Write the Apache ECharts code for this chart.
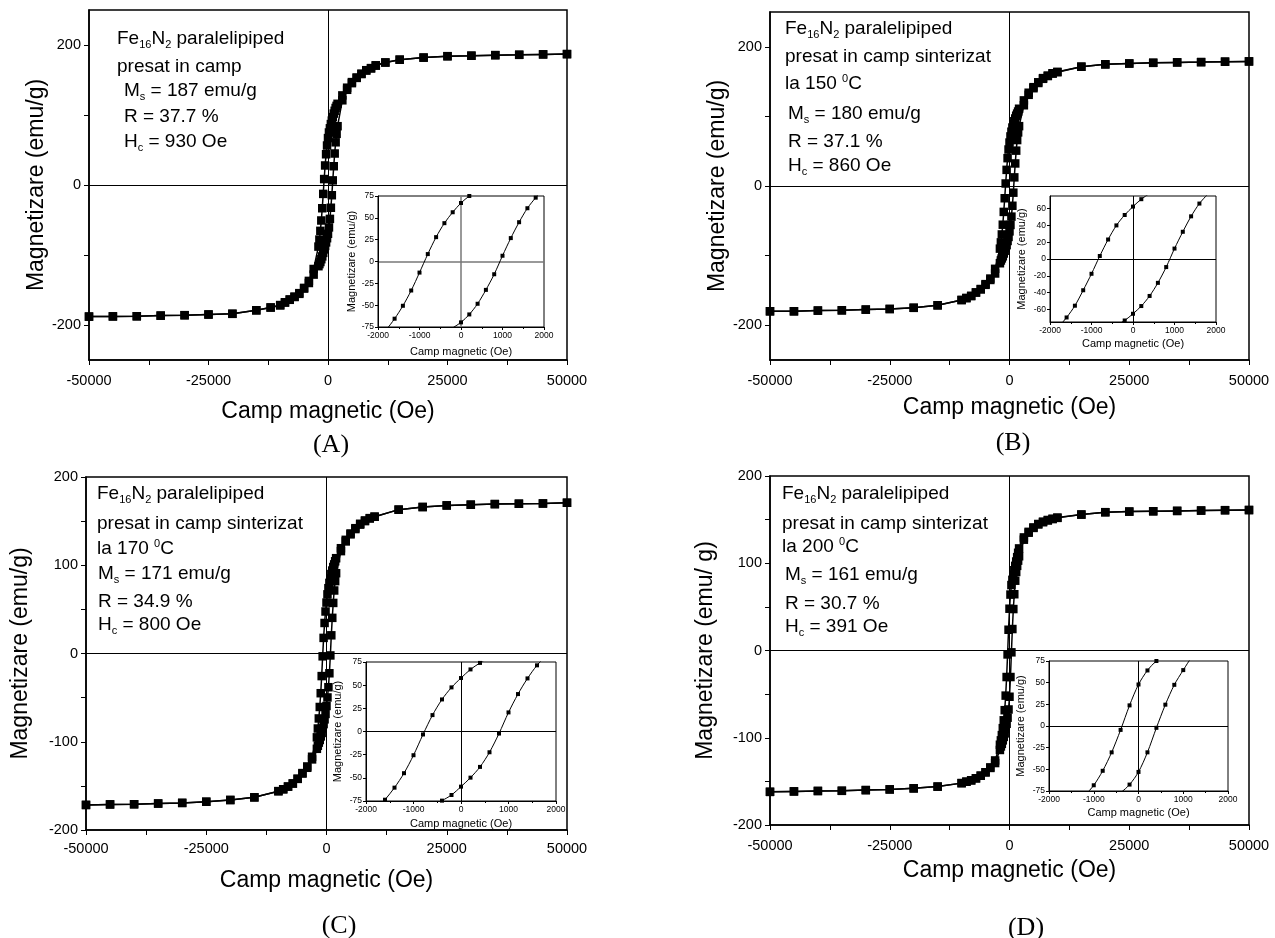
<!DOCTYPE html>
<html><head><meta charset="utf-8">
<script src="https://cdn.jsdelivr.net/npm/echarts@6/dist/echarts.min.js"></script>
<style>html,body{margin:0;padding:0;background:#fff}#c{width:1275px;height:938px}</style>
</head><body><div id="c"></div>
<script>
// ---------------- DATA ----------------
// Field grid (Oe), descending order; both loop branches are given on this grid
const hA = [50000,45000,40000,35000,30000,25000,20000,15000,12000,10000,9000,8000,7000,6000,5000,4000,3000,
  2000,1800,1600,1400,1200,1000,800,600,400,200,0,-200,-400,-600,-800,-1000,-1200,-1400,-1600,-1800,-2000,
  -3000,-4000,-5000,-6000,-7000,-8000,-9000,-10000,-12000,-15000,-20000,-25000,-30000,-35000,-40000,-45000,-50000];
const hBCD = [50000,45000,40000,35000,30000,25000,20000,15000,10000,9000,8000,7000,6000,5000,4000,3000,
  2000,1800,1600,1400,1200,1000,800,600,400,200,0,-200,-400,-600,-800,-1000,-1200,-1400,-1600,-1800,-2000,
  -3000,-4000,-5000,-6000,-7000,-8000,-9000,-10000,-15000,-20000,-25000,-30000,-35000,-40000,-45000,-50000];

// (A) descending (upper) and ascending (lower) branches, emu/g
const upA = [187,186.6,186,185.5,184.7,184,182,179,175,171,167,164,159,153.5,147,139,128,
  116,113,110,106,102,97,92,87,81,75,67,56.4,43.9,27.9,8.5,-12.7,-33.2,-50.7,-65.5,-78,-88,
  -120,-137,-147,-154.5,-159.5,-163.5,-167.5,-171.5,-175,-179,-184,-185,-186,-186.6,-187.5,-187.7,-188];
const lowA = [187,186.6,186,185.5,184.7,184,182,179,175,170.5,166.5,163.5,158.5,153,145.5,136,121,
  84,73.1,61,45,26.8,6.6,-14.6,-32.5,-48.4,-60.6,-69.7,-76,-82,-87,-92,-97,-102,-106,-110,-113,-116,
  -128,-140,-148,-155.5,-160,-164,-168,-172,-175,-179,-184,-185,-186,-186.6,-187.5,-187.7,-188];

// (B)
const upB = [179,178.6,178,177.6,177,176,174.8,171.4,164,162,158.6,155,149,142,134,123,
  111,107,104,101,97,93,89,84,78,71.2,62.4,52.4,40,23.2,3.6,-17.6,-37.2,-55.6,-69.6,-81,-90,
  -119,-133,-141,-148,-153,-158,-161,-163.8,-171.4,-175,-176.7,-177.6,-178.6,-179,-180,-180];
const lowB = [179,178.6,178,177.6,177,176,174.8,171.4,163.5,161.5,158,154,148,140.5,131,116,
  86,77,66,50.8,32.4,12.4,-9.6,-28.4,-44,-56,-65.2,-73.2,-79,-85,-89,-93,-97,-101,-104,-107,-111,
  -125.7,-135,-142,-148.6,-153,-158,-161,-163.8,-171.4,-175,-176.7,-177.6,-178.6,-179,-180,-180];

// (C)
const upC = [170.8,170,169.7,169.3,168.6,167.8,166,163,155,153.4,150.8,147,142,136,128.8,119.3,
  108,104.5,101,98,94,90,85,80,74,67,57.7,47.6,34.6,17.7,-3.2,-25.6,-45,-60.6,-73.6,-85,-95,
  -117,-128,-135.5,-142,-147.3,-150.8,-153.8,-156,-163,-166,-168,-169.3,-170,-170.8,-171,-171.6];
const lowC = [170.8,170,169.7,169.3,168.6,167.8,166,163,155,153,150,146,141,135,127,116,
  91,82,71.4,57.3,40.4,20.6,-2.2,-22.4,-38.2,-49.8,-59.5,-68.5,-74.6,-80,-85,-90,-94,-98,-101,-104.5,-108,
  -120,-129.5,-136,-142,-147.3,-150.8,-153.8,-156,-163,-166,-168,-169.3,-170,-170.8,-171,-171.6];

// (D)
const upD = [161,160.8,160.4,160,159.6,159.2,158.5,155.8,152.3,151,149.6,147.7,145,141,136,129.6,
  117,112,107,102,97,92,87,81,75,64.1,47.9,23.8,-4.5,-30.4,-51.7,-68.4,-80,-89,-97,-103,-108,
  -126,-134,-139.6,-143.5,-146.5,-148.8,-150.4,-152,-156,-158,-159.2,-160,-160.8,-161,-161.5,-162];
const lowD = [161,160.8,160.4,160,159.6,159.2,158.5,155.8,152,150.6,149,147,144.5,140.5,135,127,
  108,103,97,90,80,64.5,47.5,24.6,-2.1,-30.4,-53,-67.6,-77,-84,-90,-95,-99,-103,-107,-110,-114,
  -129,-134.6,-139.6,-143.5,-146.5,-148.8,-150.4,-152,-156,-158,-159.2,-160,-160.8,-161,-161.5,-162];

// tick labels
const mainXLabels = [-50000,-25000,0,25000,50000];
const yLabelsAB = [-200,0,200];
const yTicksAB = [-200,-100,0,100,200];
const insetYLabelsB = [-60,-40,-20,0,20,40,60];

// ---------------- CHART ----------------
const FONT = "'Liberation Sans', Arial, sans-serif";
const chart = echarts.init(document.getElementById('c'));
const grid = [], xAxis = [], yAxis = [], series = [], graphic = [];
const fmt = v => String(v);

function base(fs, tickLen, lw) {
  return {
    axisLine: {show: true, onZero: false, lineStyle: {color: '#000', width: lw}},
    axisTick: {show: true, inside: false, length: tickLen, lineStyle: {color: '#000', width: 1}},
    axisLabel: {color: '#000', fontFamily: FONT, fontSize: fs, formatter: fmt},
    splitLine: {show: false},
    nameTextStyle: {color: '#000', fontFamily: FONT}
  };
}

function zeroLines(color, w) {
  return {silent: true, symbol: ['none', 'none'], label: {show: false}, animation: false,
    lineStyle: {color: color, width: w, type: 'solid'}, emphasis: {disabled: true},
    data: [{xAxis: 0}, {yAxis: 0}]};
}

function addPanel(p, h, up, low) {
  // main grid
  const gi = grid.length;
  grid.push({left: p.m[0], top: p.m[1], width: p.m[2], height: p.m[3], show: true,
    borderColor: '#000', borderWidth: 1.5, backgroundColor: 'transparent', containLabel: false});
  const mx = Object.assign(base(14.5, 5, 1.5), {
    type: 'value', gridIndex: gi, min: -50000, max: 50000, interval: 25000,
    minorTick: {show: true, splitNumber: 2, length: 5, lineStyle: {color: '#000', width: 1}},
    minorSplitLine: {show: false},
    name: 'Camp magnetic (Oe)', nameLocation: 'middle', nameGap: p.xGap
  });
  mx.axisLabel.margin = p.xLabMargin;
  mx.axisLabel.customValues = mainXLabels;
  mx.nameTextStyle.fontSize = 23;
  xAxis.push(mx);
  const my = Object.assign(base(14.5, 5, 1.5), {
    type: 'value', gridIndex: gi, min: p.yMin, max: p.yMax,
    name: p.yName, nameLocation: 'middle', nameGap: p.yGap, nameRotate: 90
  });
  my.axisLabel.margin = 8;
  my.nameTextStyle.fontSize = 23;
  if (p.yMin === -250) {
    my.axisLabel.customValues = yLabelsAB;
    my.axisTick.customValues = yTicksAB;
  } else {
    my.interval = 100;
    my.minorTick = {show: true, splitNumber: 2, length: 5, lineStyle: {color: '#000', width: 1}};
    my.minorSplitLine = {show: false};
  }
  yAxis.push(my);
  const mk = {type: 'line', xAxisIndex: gi, yAxisIndex: gi, symbol: 'rect', symbolSize: 8.5,
    lineStyle: {color: '#000', width: 1.5}, itemStyle: {color: '#000'}, clip: true,
    emphasis: {disabled: true}, animation: false};
  series.push(Object.assign({}, mk, {data: h.map((x, i) => [x, up[i]]), markLine: zeroLines('#000', 1)}));
  series.push(Object.assign({}, mk, {data: h.map((x, i) => [x, low[i]])}));

  // inset grid
  const ii = grid.length;
  grid.push({left: p.i[0], top: p.i[1], width: p.i[2], height: p.i[3], show: true, z: 5,
    borderColor: '#000', borderWidth: 1, backgroundColor: '#fff', containLabel: false});
  const ix = Object.assign(base(8.5, 3, 1), {
    type: 'value', gridIndex: ii, min: -2000, max: 2000, interval: 1000, z: 5,
    minorTick: {show: true, splitNumber: 2, length: 2, lineStyle: {color: '#000', width: 1}},
    minorSplitLine: {show: false},
    name: 'Camp magnetic (Oe)', nameLocation: 'middle', nameGap: p.ixGap
  });
  ix.axisLabel.margin = 4;
  ix.nameTextStyle.fontSize = 11;
  xAxis.push(ix);
  const iy = Object.assign(base(8.5, 3, 1), {
    type: 'value', gridIndex: ii, min: -75, max: 75, z: 5,
    name: 'Magnetizare (emu/g)', nameLocation: 'middle', nameGap: p.iyGap, nameRotate: 90
  });
  iy.axisLabel.margin = 4;
  iy.nameTextStyle.fontSize = 11;
  if (p.insetB) {
    iy.axisLabel.customValues = insetYLabelsB;
    iy.axisTick.customValues = insetYLabelsB;
  } else {
    iy.interval = 25;
  }
  yAxis.push(iy);
  const ik = {type: 'line', xAxisIndex: ii, yAxisIndex: ii, symbol: 'rect', symbolSize: 4, z: 6,
    smooth: 0.3, lineStyle: {color: '#000', width: 1}, itemStyle: {color: '#000'}, clip: true,
    emphasis: {disabled: true}, animation: false};
  series.push(Object.assign({}, ik, {data: h.map((x, i) => [x, up[i]]), markLine: zeroLines(p.zc, p.zw)}));
  series.push(Object.assign({}, ik, {data: h.map((x, i) => [x, low[i]])}));

  // panel letter
  graphic.push({type: 'text', x: p.letter[0], y: p.letter[1], z: 10,
    style: {text: p.letter[2], align: 'center', verticalAlign: 'middle', fill: '#000',
      font: "26px 'Liberation Serif', 'Times New Roman', serif"}});
  // annotation lines
  p.notes.forEach(n => {
    graphic.push({type: 'text', x: n[0], y: n[1], z: 10,
      style: {text: n[2], verticalAlign: 'top', align: 'left', fill: '#000',
        rich: {
          n: {fontSize: 19, fontFamily: FONT, lineHeight: 22, fill: '#000'},
          s: {fontSize: 11, fontFamily: FONT, lineHeight: 8, verticalAlign: 'bottom', fill: '#000'},
          p: {fontSize: 11, fontFamily: FONT, lineHeight: 8, verticalAlign: 'top', fill: '#000'}
        }}});
  });
}

const feLine = '{n|Fe}{s|16}{n|N}{s|2}{n| paralelipiped}';

addPanel({m: [89, 10, 478, 350], yMin: -250, yMax: 250, yName: 'Magnetizare (emu/g)',
  xGap: 40, yGap: 40, xLabMargin: 13,
  i: [378, 196, 166, 131], ixGap: 19, iyGap: 20, zc: '#777', zw: 1.5,
  letter: [331, 445, '(A)'],
  notes: [[117, 28, feLine], [117, 56, '{n|presat in camp}'], [124, 80, '{n|M}{s|s}{n| = 187 emu/g}'],
    [124, 106, '{n|R = 37.7 %}'], [124, 131, '{n|H}{s|c}{n| = 930 Oe}']]
}, hA, upA, lowA);

addPanel({m: [770, 12, 479, 348], yMin: -250, yMax: 250, yName: 'Magnetizare (emu/g)',
  xGap: 36, yGap: 36, xLabMargin: 13,
  i: [1050, 196, 166, 126], ixGap: 16, iyGap: 23, zc: '#000', zw: 1, insetB: true,
  letter: [1013, 443, '(B)'],
  notes: [[785, 18, feLine], [785, 46, '{n|presat in camp sinterizat}'], [785, 73, '{n|la 150 }{p|0}{n|C}'],
    [788, 103, '{n|M}{s|s}{n| = 180 emu/g}'], [788, 131, '{n|R = 37.1 %}'], [788, 155, '{n|H}{s|c}{n| = 860 Oe}']]
}, hBCD, upB, lowB);

addPanel({m: [86, 477, 481, 353], yMin: -200, yMax: 200, yName: 'Magnetizare (emu/g)',
  xGap: 39, yGap: 54, xLabMargin: 11,
  i: [366, 662, 190, 139], ixGap: 17, iyGap: 23, zc: '#000', zw: 1,
  letter: [339, 926, '(C)'],
  notes: [[97, 483, feLine], [97, 513, '{n|presat in camp sinterizat}'], [97, 538, '{n|la 170 }{p|0}{n|C}'],
    [98, 563, '{n|M}{s|s}{n| = 171 emu/g}'], [98, 591, '{n|R = 34.9 %}'], [98, 614, '{n|H}{s|c}{n| = 800 Oe}']]
}, hBCD, upC, lowC);

addPanel({m: [770, 476, 479, 349], yMin: -200, yMax: 200, yName: 'Magnetizare (emu/ g)',
  xGap: 34, yGap: 53, xLabMargin: 13,
  i: [1049, 661, 179, 130], ixGap: 16, iyGap: 23, zc: '#000', zw: 1,
  letter: [1026, 928, '(D)'],
  notes: [[782, 483, feLine], [782, 513, '{n|presat in camp sinterizat}'], [782, 536, '{n|la 200 }{p|0}{n|C}'],
    [785, 564, '{n|M}{s|s}{n| = 161 emu/g}'], [785, 593, '{n|R = 30.7 %}'], [785, 616, '{n|H}{s|c}{n| = 391 Oe}']]
}, hBCD, upD, lowD);

chart.setOption({animation: false, backgroundColor: '#fff', grid, xAxis, yAxis, series, graphic});
</script></body></html>
